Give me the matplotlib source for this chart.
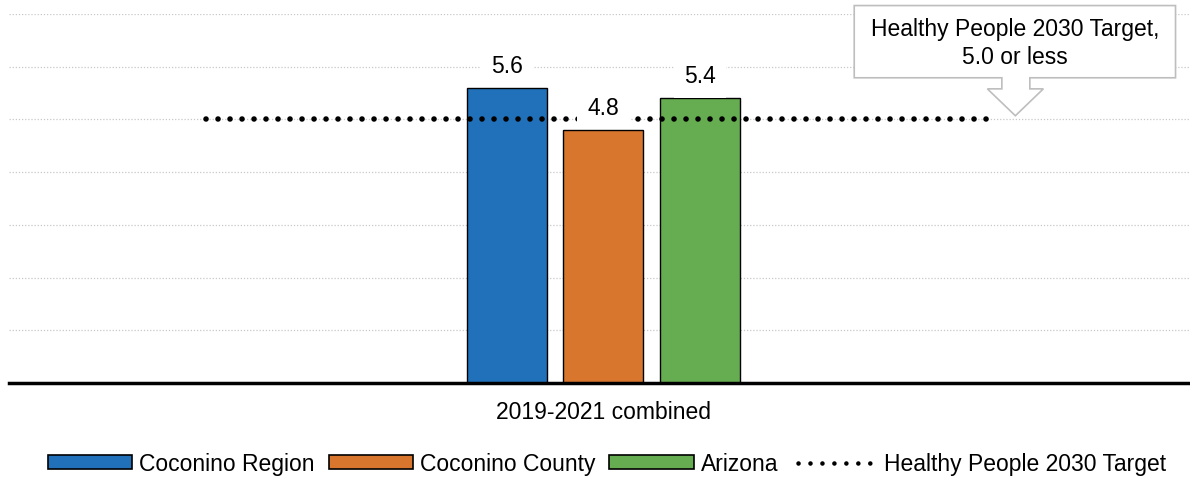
import matplotlib.pyplot as plt
from matplotlib.patches import Polygon, Patch
from matplotlib.lines import Line2D
import numpy as np

plt.rcParams['font.family'] = ['Liberation Sans', 'DejaVu Sans']

category = '2019-2021 combined'
series = ['Coconino Region', 'Coconino County', 'Arizona']
values = [5.6, 4.8, 5.4]
colors = ['#2170BA', '#D8762E', '#66AD52']
target = 5.0
target_label = 'Healthy People 2030 Target'
callout_text = 'Healthy People 2030 Target,\n5.0 or less'

fig = plt.figure(figsize=(11.9, 4.81), dpi=100)
ax = fig.add_axes([9 / 1190, 1 - 384 / 481, 1181 / 1190, 369 / 481])

offsets = np.array([-1, 0, 1])
bars = ax.bar(offsets, values, width=0.83, color=colors, edgecolor='black',
              linewidth=1, zorder=3)

ax.set_xlim(-6.16, 6.08)
ax.set_ylim(0, 7)

# dotted grid
for y in range(1, 8):
    ax.axhline(y, color='#C8C8C8', linewidth=0.9, linestyle=(0, (1, 1.5)), zorder=0)

# target line
ax.plot([-4.12, 3.99], [target, target], color='black', linewidth=4.0,
        linestyle=(0, (0.01, 2.15)), dash_capstyle='round', zorder=4)

for b, v in zip(bars, values):
    ax.annotate(f'{v:.1f}', (b.get_x() + b.get_width() / 2, v),
                xytext=(0, 8), textcoords='offset points', ha='center',
                va='bottom', fontsize=16.5, zorder=6,
                bbox=dict(boxstyle='square,pad=0.45', fc='white', ec='none'))

# callout box with arrow
pts = [(2.60, 7.16), (5.93, 7.16), (5.93, 5.79), (4.42, 5.79), (4.42, 5.58),
       (4.56, 5.58), (4.27, 5.07), (3.98, 5.58), (4.13, 5.58), (4.13, 5.79),
       (2.60, 5.79)]
ax.add_patch(Polygon(pts, closed=True, fc='white', ec='#BEBEBE', lw=1.2,
                     clip_on=False, zorder=7))
ax.text(4.265, 6.46, callout_text, ha='center', va='center', fontsize=16.5,
        linespacing=1.3, zorder=8)

for s in ['top', 'right', 'left']:
    ax.spines[s].set_visible(False)
ax.spines['bottom'].set_linewidth(2.5)
ax.spines['bottom'].set_zorder(5)
ax.set_yticks([])
ax.set_xticks([0])
ax.set_xticklabels([category], fontsize=16.5)
ax.tick_params(axis='x', length=0, pad=12)

handles = [Patch(fc=c, ec='black', lw=1.2) for c in colors]
handles.append(Line2D([], [], color='black', linewidth=3.3,
                      linestyle=(1.3, (0.01, 2.6)), dash_capstyle='round'))
fig.legend(handles, series + [target_label], loc='center', ncol=4,
           bbox_to_anchor=(0.51, 1 - 465 / 481), frameon=False, fontsize=16.5,
           handlelength=3.7, handleheight=0.55, handletextpad=0.3,
           columnspacing=0.6)

fig.savefig('out.png', dpi=100)
